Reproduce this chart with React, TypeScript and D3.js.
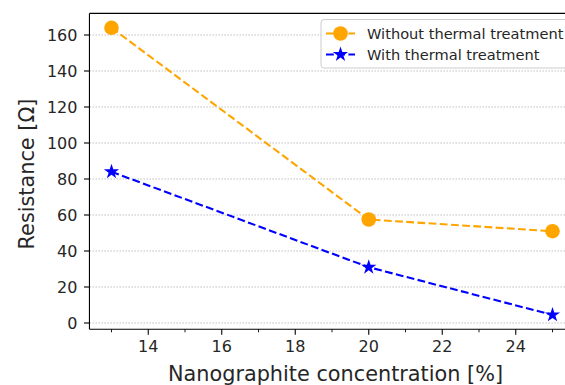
import React from "react";
import * as d3 from "d3";

const concentrations = [13, 20, 25];
const withoutTreatment = [164, 57.5, 51];
const withTreatment = [84, 31, 4.5];
const xTicks = [14, 16, 18, 20, 22, 24];
const xMinorTicks = [13, 15, 17, 19, 21, 23, 25];
const yTicks = [0, 20, 40, 60, 80, 100, 120, 140, 160];
const seriesNames = ["Without thermal treatment", "With thermal treatment"];

const W = 565;
const H = 385;
const FONT = "DejaVu Sans, sans-serif";

function starPath(r: number): string {
  const inner = r * 0.381966;
  const pts: string[] = [];
  for (let i = 0; i < 10; i++) {
    const a = (Math.PI / 5) * i - Math.PI / 2;
    const rr = i % 2 === 0 ? r : inner;
    pts.push(`${(rr * Math.cos(a)).toFixed(2)},${(rr * Math.sin(a)).toFixed(2)}`);
  }
  return "M" + pts.join("L") + "Z";
}

export default function App() {
  const left = 89.45;
  const right = 574.55;
  const top = 13.4;
  const bottom = 329.3;
  const x = d3.scaleLinear().domain([12.4, 25.6]).range([left, right]);
  const y = d3.scaleLinear().domain([-3.5, 172]).range([bottom, top]);

  const line = d3
    .line<[number, number]>()
    .x((d) => x(d[0]))
    .y((d) => y(d[1]));

  const s1: [number, number][] = concentrations.map((c, i) => [c, withoutTreatment[i]]);
  const s2: [number, number][] = concentrations.map((c, i) => [c, withTreatment[i]]);

  const orange = "#FFA500";
  const blue = "#0000FF";
  const star = starPath(8);

  return (
    <svg
      width={W}
      height={H}
      style={{ position: "absolute", left: 0, top: 0, background: "#fff" }}
      fontFamily={FONT}
    >
      <rect width={W} height={H} fill="#fff" />
      {/* grid */}
      {yTicks.map((t) => (
        <line
          key={"g" + t}
          x1={left}
          x2={right}
          y1={y(t)}
          y2={y(t)}
          stroke="#b0b0b0"
          strokeWidth={0.8}
          strokeDasharray="1.5,1.5"
        />
      ))}
      {/* lines */}
      <path d={line(s1) || ""} fill="none" stroke={orange} strokeWidth={2.1} strokeDasharray="7.8,3.4" />
      <path d={line(s2) || ""} fill="none" stroke={blue} strokeWidth={2.1} strokeDasharray="7.8,3.4" />
      {s1.map((d, i) => (
        <circle key={"c" + i} cx={x(d[0])} cy={y(d[1])} r={7.3} fill={orange} />
      ))}
      {s2.map((d, i) => (
        <path key={"s" + i} d={star} transform={`translate(${x(d[0])},${y(d[1])})`} fill={blue} />
      ))}
      {/* spines */}
      <line x1={left} x2={left} y1={top} y2={bottom} stroke="#000" strokeWidth={1.1} />
      <line x1={left} x2={right} y1={bottom} y2={bottom} stroke="#000" strokeWidth={1.1} />
      <line x1={left} x2={right} y1={top} y2={top} stroke="#000" strokeWidth={1.1} />
      <line x1={right} x2={right} y1={top} y2={bottom} stroke="#000" strokeWidth={1.1} />
      {/* y ticks */}
      {yTicks.map((t) => (
        <g key={"yt" + t}>
          <line x1={left - 5.5} x2={left} y1={y(t)} y2={y(t)} stroke="#000" strokeWidth={1.1} />
          <text x={left - 12} y={y(t)} dy="0.36em" textAnchor="end" fontSize={16} fill="#262626">
            {t}
          </text>
        </g>
      ))}
      {/* x ticks */}
      {xMinorTicks.map((t) => (
        <line key={"xm" + t} x1={x(t)} x2={x(t)} y1={bottom} y2={bottom + 3} stroke="#000" strokeWidth={0.9} />
      ))}
      {xTicks.map((t) => (
        <g key={"xt" + t}>
          <line x1={x(t)} x2={x(t)} y1={bottom} y2={bottom + 5.5} stroke="#000" strokeWidth={1.1} />
          <text x={x(t)} y={bottom + 10} dy="0.78em" textAnchor="middle" fontSize={16} fill="#262626">
            {t}
          </text>
        </g>
      ))}
      {/* axis labels */}
      <text x={335.5} y={380.5} textAnchor="middle" fontSize={20.8} fill="#262626">
        Nanographite concentration [%]
      </text>
      <text
        transform={`translate(33.5,174) rotate(-90)`}
        textAnchor="middle"
        fontSize={20.8}
        fill="#262626"
      >
        Resistance [Ω]
      </text>
      {/* legend */}
      <g>
        <rect x={321} y={19.5} width={260} height={48.5} rx={3} fill="#fff" fillOpacity={0.8} stroke="#cccccc" strokeWidth={1} />
        {seriesNames.map((name, i) => {
          const cy = 33.5 + i * 21;
          const color = i === 0 ? orange : blue;
          return (
            <g key={name}>
              <line x1={326} x2={355} y1={cy} y2={cy} stroke={color} strokeWidth={2.1} strokeDasharray="7.8,3.4" />
              {i === 0 ? (
                <circle cx={340.5} cy={cy} r={7.3} fill={color} />
              ) : (
                <path d={star} transform={`translate(340.5,${cy})`} fill={color} />
              )}
              <text x={367} y={cy} dy="0.35em" fontSize={14.6} fill="#262626">
                {name}
              </text>
            </g>
          );
        })}
      </g>
    </svg>
  );
}
